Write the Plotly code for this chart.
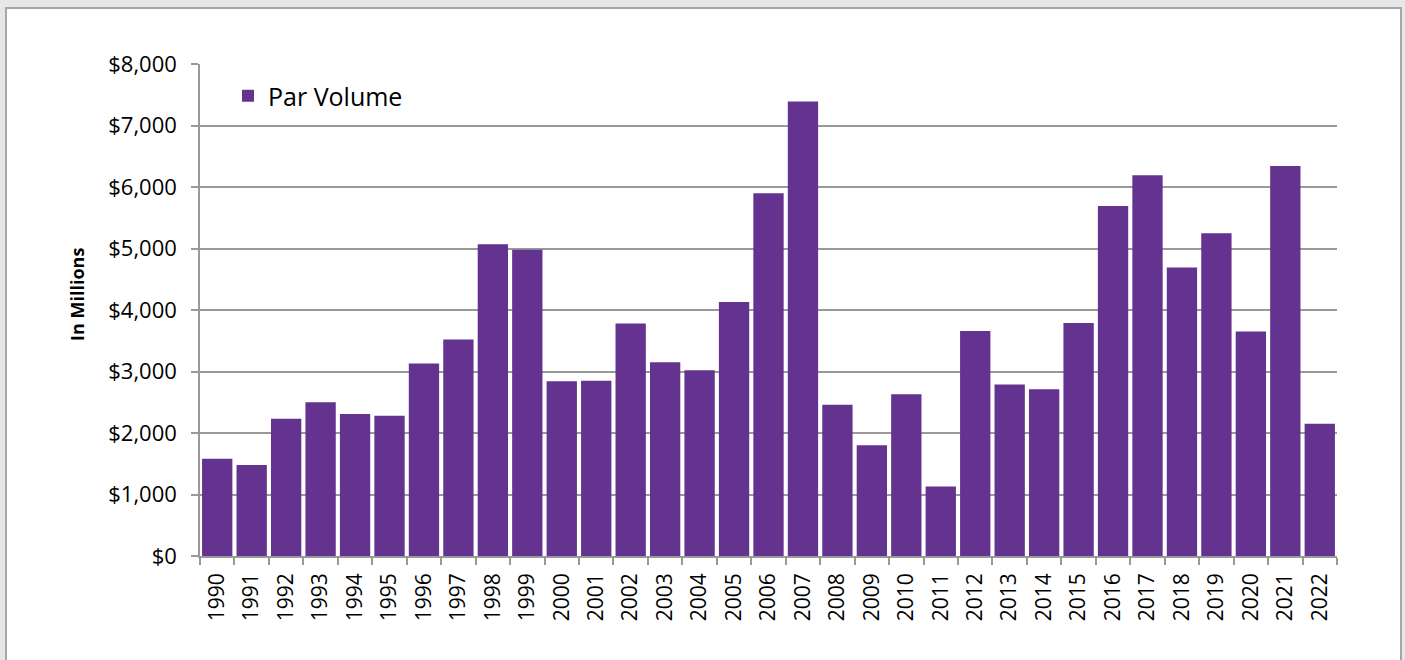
import plotly.graph_objects as go

years = [str(y) for y in range(1990, 2023)]
par_volume = [1580, 1480, 2230, 2500, 2310, 2280, 3130, 3520, 5070, 4980,
              2840, 2850, 3780, 3150, 3020, 4130, 5900, 7390, 2460, 1800,
              2630, 1130, 3660, 2790, 2710, 3790, 5690, 6190, 4690, 5250,
              3650, 6340, 2150]

W, H = 1405, 660
L, R, T, B = 200, 68, 64, 104
pw, ph = W - L - R, H - T - B

def px(x):
    return (x - L) / pw

def py(y):
    return (H - B - y) / ph

FONT = "Open Sans"

fig = go.Figure()
fig.add_trace(go.Bar(x=years, y=par_volume, name="Par Volume",
                     marker=dict(color="#64328f", line=dict(width=0))))

fig.update_layout(
    width=W, height=H,
    margin=dict(l=L, r=R, t=T, b=B, pad=0),
    paper_bgcolor="#e6e7e8",
    plot_bgcolor="rgba(0,0,0,0)",
    bargap=0.12,
    font=dict(family=FONT, color="#000000"),
    showlegend=True,
    legend=dict(x=px(228), y=py(73), xanchor="left", yanchor="top",
                bgcolor="rgba(0,0,0,0)", font=dict(size=25, family=FONT),
                itemwidth=30),
    shapes=[dict(type="rect", xref="paper", yref="paper", layer="below",
                 x0=px(6), x1=px(1401), y0=py(700), y1=py(8),
                 fillcolor="white", line=dict(color="#a6a6a6", width=2))],
    annotations=[dict(text="<b>In Millions</b>", xref="paper", yref="paper",
                      x=px(63), y=py(295), textangle=-90, showarrow=False,
                      font=dict(size=18, family=FONT))],
    xaxis=dict(type="category", tickson="boundaries", ticks="outside",
               ticklen=7, tickcolor="#999999", tickwidth=1.5,
               showline=True, linecolor="#999999", linewidth=1.5,
               tickangle=-90, tickfont=dict(size=21, family=FONT),
               ticklabelstandoff=7, showgrid=False),
    yaxis=dict(range=[0, 8000], dtick=1000, tickprefix="$", tickformat=",",
               ticks="outside", ticklen=7, tickcolor="#999999", tickwidth=1.5,
               showline=True, linecolor="#999999", linewidth=1.5,
               gridcolor="#999999", gridwidth=1.5,
               tickfont=dict(size=22, family=FONT), ticklabelstandoff=10),
)

fig.write_html("out.html")
